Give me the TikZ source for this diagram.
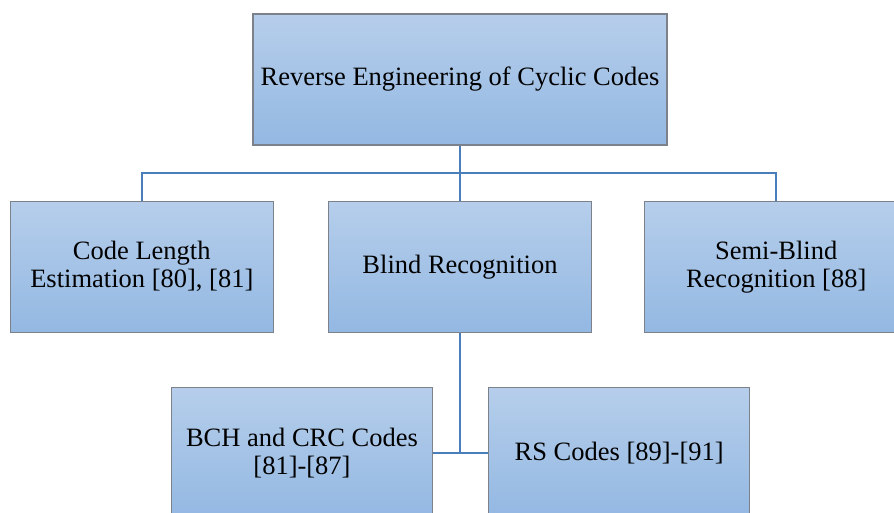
\documentclass[tikz,border=0pt]{standalone}
\usepackage{fontspec}
\setmainfont{Liberation Serif}
\usepackage{tikz}
\usetikzlibrary{positioning, calc}
\definecolor{boxtop}{RGB}{182,206,235}
\definecolor{boxbot}{RGB}{147,184,226}
\definecolor{boxline}{RGB}{125,130,138}
\definecolor{linkblue}{RGB}{74,126,187}

\begin{document}
\begin{tikzpicture}[
    x=1pt, y=-1pt,
    font=\fontsize{26.5}{28}\selectfont,
    node distance = 55pt and 54pt,
    topbox/.style = {
        rectangle, draw=boxline, top color=boxtop, bottom color=boxbot,
        minimum width=414pt, minimum height=131pt,
        align=center, line width=1.2pt, inner sep=0pt
    },
    catbox/.style = {
        topbox, minimum width=263pt
    },
    subbox/.style = {
        topbox, minimum width=261pt
    },
    link/.style = {draw=linkblue, line width=2pt}
]

% ---- Frame ----
\useasboundingbox (0,0) rectangle (894,512);
\clip (0,0) rectangle (894,512);

% ---- Root ----
\node[topbox] (root) at (460,79.5) {Reverse Engineering of Cyclic Codes};

% ---- Second level ----
\node[catbox, below=55pt of root] (blind) {Blind Recognition};
\node[catbox, left=54pt of blind] (length) {Code Length\\Estimation [80], [81]};
\node[catbox, right=52pt of blind] (semi) {Semi-Blind\\Recognition [88]};

% ---- Third level ----
\node[subbox, below=54pt of blind, xshift=-158pt] (bch) {BCH and CRC Codes\\{[81]-[87]}};
\node[subbox, right=55pt of bch] (rs) {RS Codes [89]-[91]};

% ---- Connectors ----
\coordinate (bar) at ($(root.south)!0.5!(blind.north)$);
\draw[link] (root.south) -- (blind.north);
\draw[link] (length.north) |- (bar) -| (semi.north);
\draw[link] (blind.south) -- (blind.south |- bch.east);
\draw[link] (bch.east) -- (rs.west);

\end{tikzpicture}
\end{document}
